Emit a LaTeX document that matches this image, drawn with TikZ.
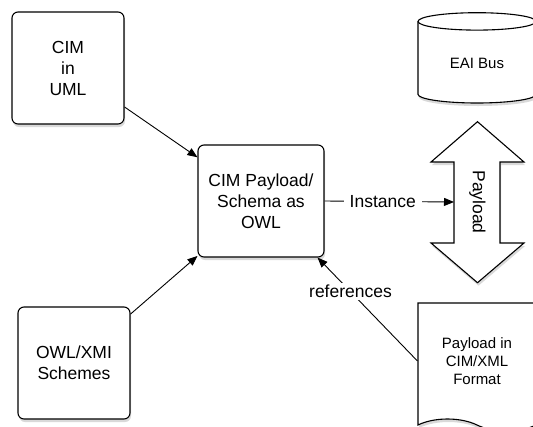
\documentclass[tikz,border=0pt]{standalone}
\usepackage{fontspec}
\setmainfont{Liberation Sans}
\usetikzlibrary{arrows.meta,shapes.symbols,shadows}

\begin{document}
\begin{tikzpicture}[
  x=1pt,y=-1pt,
  softshadow/.style={drop shadow={opacity=0.3,shadow xshift=1pt,shadow yshift=-3pt}},
  block/.style={draw,rounded corners=6pt,align=center,line width=1.1pt,fill=white,softshadow,font=\fontsize{17.5}{21}\selectfont},
  store/.style={draw,line width=1.1pt,fill=white,softshadow,align=center,font=\fontsize{15}{18}\selectfont},
  link/.style={-{Triangle[length=10pt,width=8pt]},line width=0.9pt},
  link label/.style={fill=white,inner xsep=6pt,inner ysep=2pt,font=\fontsize{17.5}{21}\selectfont}
]
\useasboundingbox (0,0) rectangle (533,426);
\node[block,minimum width=112pt,minimum height=112pt] (uml) at (68,68) {CIM\\in\\UML};
\node[block,minimum width=126pt,minimum height=112pt] (owl) at (261,201) {CIM Payload/\\Schema as\\OWL};
\node[block,minimum width=112pt,minimum height=112pt] (xmi) at (74,363) {OWL/XMI\\Schemes};
% bus drum
\path[store] (418,21.4) -- (418,94.3) arc[start angle=180,end angle=360,x radius=59pt,y radius=8.7pt]
  -- (536,21.4) arc[start angle=0,end angle=180,x radius=59pt,y radius=8.7pt] -- cycle;
\draw[line width=1.1pt] (418,21.4) arc[start angle=180,end angle=360,x radius=59pt,y radius=8.7pt];
\node[font=\fontsize{15}{18}\selectfont] (bus) at (477,63) {EAI Bus};
% payload double arrow
\path[store] (477.5,121.7) -- (524,162) -- (500,162) -- (500,243) -- (524,243) -- (477.5,282.7)
  -- (431,243) -- (454,243) -- (454,162) -- (431,162) -- cycle;
\node[rotate=-90,font=\fontsize{17.5}{21}\selectfont] (pay) at (477.5,202) {Payload};
\coordinate (shaft) at (454,202);
\node[store,tape,tape bend top=none,tape bend bottom=out and in,tape bend height=12pt,minimum width=118pt,minimum height=128pt] (doc) at (477,361) {Payload in\\CIM/XML\\Format};
\draw[link] (uml) -- (owl);
\draw[link] (xmi) -- (owl);
\draw[link] (owl.east) -- node[link label,pos=0.45] {Instance} (shaft);
\draw[link] (doc.west) -- node[link label,pos=0.67] {references} (owl.-45);
\end{tikzpicture}
\end{document}
